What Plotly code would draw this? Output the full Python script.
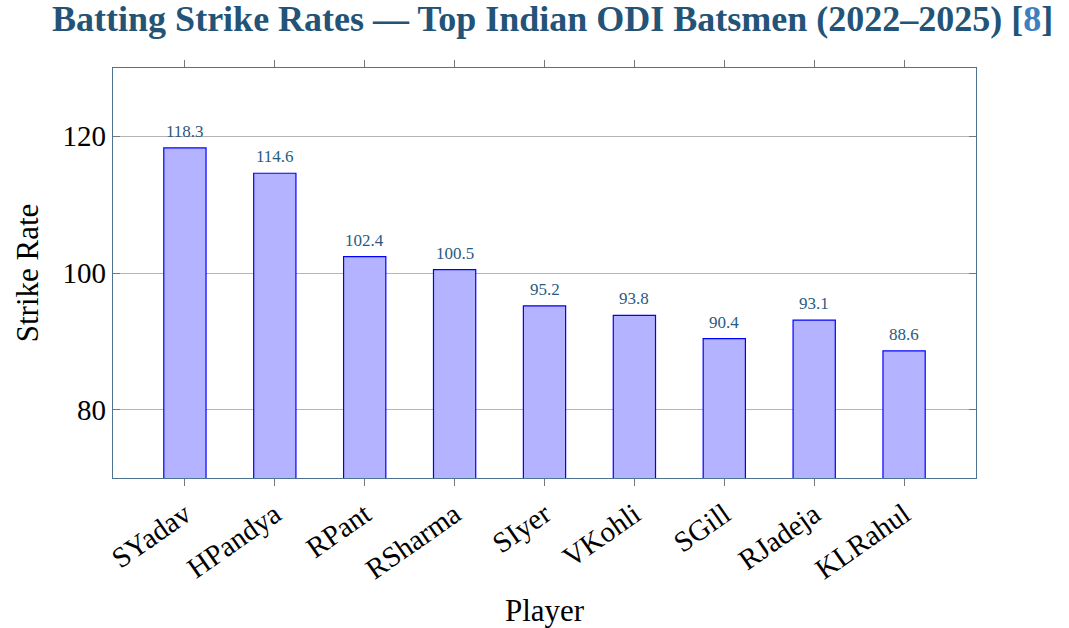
import plotly.graph_objects as go

players = ["SYadav", "HPandya", "RPant", "RSharma", "SIyer", "VKohli", "SGill", "RJadeja", "KLRahul"]
strike_rates = [118.3, 114.6, 102.4, 100.5, 95.2, 93.8, 90.4, 93.1, 88.6]
y_ticks = [80, 100, 120]

FONT = "Liberation Serif"
TITLE_C = "#235478"
AXIS_C = "#4d7393"

fig = go.Figure()
fig.add_trace(go.Bar(
    x=players, y=strike_rates, width=0.47,
    marker=dict(color="#b3b3ff", line=dict(color="#0000ff", width=1.2)),
))
for p, v in zip(players, strike_rates):
    fig.add_annotation(
        x=p, y=v, text=f"{v:.1f}", showarrow=False, yanchor="bottom", yshift=5,
        font=dict(family=FONT, size=17, color="#2b5a80"),
    )
fig.update_layout(
    width=1069, height=628,
    margin=dict(l=113, r=93, t=68, b=150),
    plot_bgcolor="white", paper_bgcolor="white",
    showlegend=False,
    title=dict(
        text="<b>Batting Strike Rates — Top Indian ODI Batsmen (2022–2025) [<span style='color:#3d7fbf'>8</span>]</b>",
        x=0.517, xanchor="center", y=0.99, yanchor="top",
        font=dict(family=FONT, size=36, color=TITLE_C),
    ),
    font=dict(family=FONT, color="black"),
)
fig.update_xaxes(
    range=[-0.8, 8.8], showline=True, linecolor=AXIS_C, linewidth=1.2, mirror="allticks",
    ticks="outside", ticklen=7, tickcolor="#777777", tickangle=-35,
    tickfont=dict(family=FONT, size=29), automargin=False,
    title=dict(text="Player", font=dict(family=FONT, size=31), standoff=18),
    showgrid=False,
)
fig.update_yaxes(
    range=[70, 130], tickvals=y_ticks, showline=True, linecolor=AXIS_C, linewidth=1.2, mirror="allticks",
    ticks="inside", ticklen=7, tickcolor="#777777", automargin=False,
    tickfont=dict(family=FONT, size=29),
    title=dict(text="Strike Rate", font=dict(family=FONT, size=31), standoff=14),
    showgrid=True, gridcolor="#b5b5b5", gridwidth=1, zeroline=False,
)
fig.write_html("out.html")
